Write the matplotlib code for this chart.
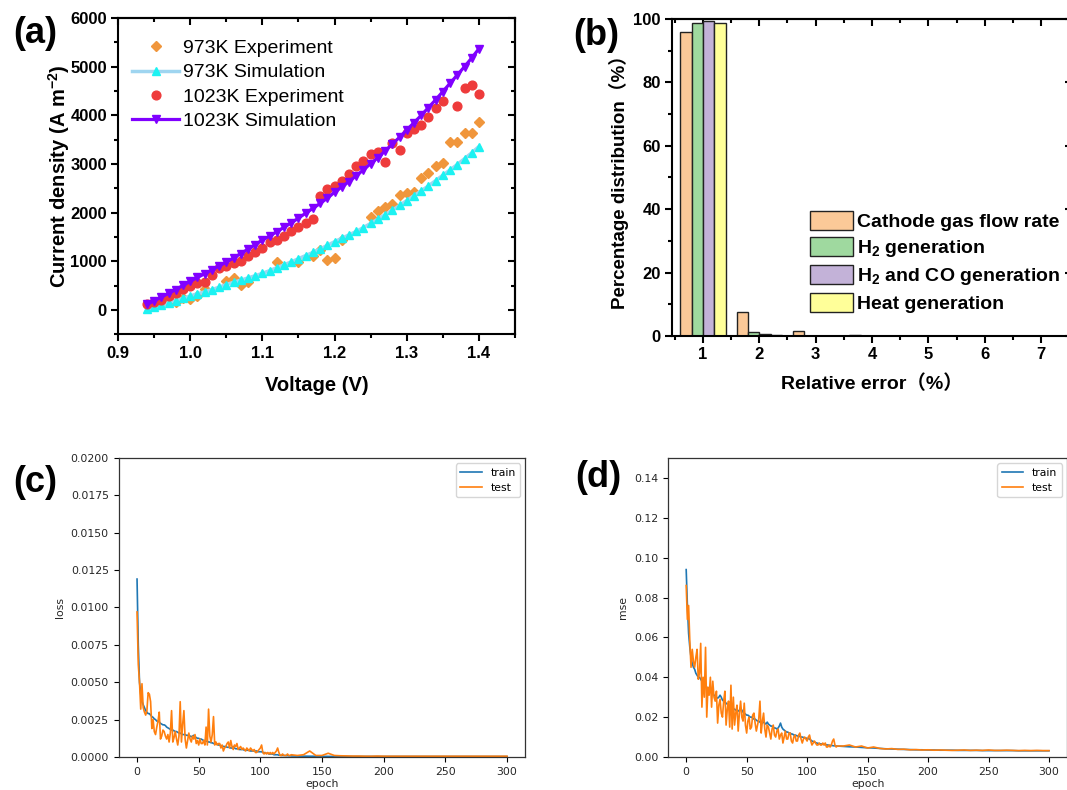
import matplotlib
matplotlib.use('Agg')
import matplotlib.pyplot as plt
from matplotlib.ticker import MultipleLocator

plt.rcParams['mathtext.fontset'] = 'custom'
plt.rcParams['mathtext.rm'] = 'Liberation Sans'
plt.rcParams['mathtext.bf'] = 'Liberation Sans:bold'

# ---------------- (a) polarisation curves ----------------
v_sim = [0.94, 0.95, 0.96, 0.97, 0.98, 0.99, 1.00, 1.01, 1.02, 1.03, 1.04, 1.05,
         1.06, 1.07, 1.08, 1.09, 1.10, 1.11, 1.12, 1.13, 1.14, 1.15, 1.16, 1.17,
         1.18, 1.19, 1.20, 1.21, 1.22, 1.23, 1.24, 1.25, 1.26, 1.27, 1.28, 1.29,
         1.30, 1.31, 1.32, 1.33, 1.34, 1.35, 1.36, 1.37, 1.38, 1.39, 1.40]
sim973 = [15, 60, 105, 150, 195, 240, 290, 335, 375, 420, 470, 525,
          570, 615, 660, 705, 755, 810, 870, 930, 990, 1055, 1120, 1185,
          1255, 1330, 1405, 1475, 1545, 1615, 1695, 1780, 1870, 1960, 2050, 2150,
          2250, 2350, 2450, 2550, 2660, 2770, 2880, 2990, 3110, 3230, 3360]
sim1023 = [115, 190, 265, 345, 420, 505, 590, 670, 745, 825, 905, 985,
           1070, 1160, 1250, 1340, 1440, 1520, 1610, 1700, 1790, 1890, 1990, 2090,
           2190, 2300, 2420, 2530, 2640, 2760, 2880, 3010, 3130, 3270, 3410, 3550,
           3700, 3850, 4000, 4160, 4320, 4490, 4660, 4830, 5000, 5180, 5370]

v_exp973 = [0.95, 0.96, 0.97, 0.98, 0.99, 1.00, 1.01, 1.02, 1.05, 1.06, 1.07, 1.08,
            1.12, 1.15, 1.17, 1.18, 1.19, 1.20, 1.21, 1.25, 1.26, 1.27, 1.28, 1.29,
            1.30, 1.31, 1.32, 1.33, 1.34, 1.35, 1.36, 1.37, 1.38, 1.39, 1.40]
exp973 = [110, 150, 200, 175, 255, 225, 280, 435, 590, 665, 515, 575,
          985, 985, 1120, 1230, 1030, 1075, 1430, 1920, 2030, 2115, 2170, 2365,
          2400, 2425, 2720, 2820, 2960, 3030, 3450, 3450, 3640, 3640, 3860]

v_exp1023 = [0.94, 0.95, 0.96, 0.97, 0.98, 0.99, 1.00, 1.01, 1.02, 1.03, 1.04, 1.05,
             1.06, 1.07, 1.08, 1.09, 1.10, 1.11, 1.12, 1.13, 1.14, 1.15, 1.16, 1.17,
             1.18, 1.19, 1.20, 1.21, 1.22, 1.23, 1.24, 1.25, 1.26, 1.27, 1.28, 1.29,
             1.30, 1.31, 1.32, 1.33, 1.34, 1.35, 1.37, 1.38, 1.39, 1.40]
exp1023 = [116, 164, 205, 287, 342, 424, 492, 547, 581, 711, 854, 902,
           970, 1018, 1107, 1189, 1278, 1394, 1449, 1517, 1620, 1702, 1791, 1880,
           2340, 2490, 2550, 2650, 2790, 2950, 3060, 3200, 3250, 3040, 3430, 3285,
           3640, 3710, 3810, 3970, 4160, 4290, 4200, 4565, 4620, 4430]

# ---------------- (b) relative error histogram ----------------
err_bins = [1, 2, 3, 4, 5, 6, 7]
cathode_flow = [96.0, 7.7, 1.5, 0.25, 0, 0, 0]
h2_gen = [98.8, 1.1, 0, 0, 0, 0, 0]
h2_co_gen = [99.4, 0.6, 0, 0, 0, 0, 0]
heat_gen = [98.8, 0.3, 0, 0, 0, 0, 0]
bar_labels = ['Cathode gas flow rate', r'H$_\mathbf{2}$ generation',
              r'H$_\mathbf{2}$ and CO generation', 'Heat generation']
bar_colors = ['#FBC998', '#9FD99F', '#C3B2D8', '#FFFF99']

# ---------------- (c) loss (x1e-4), (d) mse (x1e-3) ----------------
loss_train = [119, 75, 50, 42, 37, 35, 33, 31, 30, 29,
              29, 28, 27, 26.5, 25.5, 25, 24, 24, 23.5, 22.5,
              22, 21.5, 21.5, 21, 20, 19.5, 19, 18.5, 18, 18,
              17.5, 17, 17, 16.5, 16, 16, 15.5, 15, 15, 15,
              14.5, 14.5, 14, 14, 13.5, 14, 14.5, 13.5, 13, 12.5,
              12.5, 12, 12, 11.5, 11, 11, 10.5, 10.5, 10, 10,
              9.5, 9.5, 9, 9, 8.5, 8.5, 8, 8, 7.5, 7.5,
              7, 7, 7, 6.5, 6.5, 6.5, 6, 6, 7, 6,
              5.5, 5.5, 5.5, 5, 5, 5, 5, 4.5, 4.5, 4.5,
              4.5, 4.5, 4, 4, 4, 4, 4, 4, 3.5, 3.5,
              3.5, 3.5, 3, 3, 2.5, 2.5, 2.5, 2, 2, 2,
              2, 1.5, 1.5, 1.5, 1.5, 1.2, 1.2, 1, 1, 1,
              1, 0.9, 0.9, 0.8, 0.8]
loss_test = [97, 62, 50, 32, 49, 33, 30, 28, 31, 43,
             42, 37, 19, 25, 17, 15, 20, 24, 30, 12,
             14, 18, 17, 14, 12, 15, 10, 16, 31, 10,
             13, 17, 12, 8, 14, 37, 10, 22, 31, 12,
             6, 11, 16, 12, 10, 14, 12, 15, 9, 11,
             8, 12, 9, 9, 11, 8, 20, 8, 32, 14,
             10, 15, 27, 8, 10, 8, 9, 9, 6, 8,
             4, 6, 7, 9, 10, 6, 11, 7, 5, 8,
             7, 9, 5, 6, 7, 5, 6, 5, 4, 6,
             5, 4, 6, 5, 4, 5, 3, 3, 4, 5,
             6, 8, 3, 2, 3, 2, 3, 2, 3, 2,
             3, 2, 3, 4, 6, 3, 1, 1, 2, 1,
             1, 1, 2, 1, 1]
loss_tail_epochs = [125, 130, 135, 140, 145, 150, 155, 160, 165, 170, 175, 180,
                    185, 190, 195, 200, 205, 210, 215, 220, 225, 230, 235, 240,
                    245, 250, 255, 260, 265, 270, 275, 280, 285, 290, 295, 300]
loss_train_tail = [0.7, 0.6, 0.55, 0.5, 0.45, 0.4, 0.4, 0.35, 0.35, 0.3, 0.3, 0.3,
                   0.3, 0.3, 0.3, 0.3, 0.3, 0.3, 0.3, 0.3, 0.3, 0.3, 0.3, 0.3,
                   0.3, 0.3, 0.3, 0.3, 0.3, 0.3, 0.3, 0.3, 0.3, 0.3, 0.3, 0.3]
loss_test_tail = [1.5, 1, 1.5, 4, 1, 1, 2.5, 1, 0.8, 0.7, 0.6, 0.6,
                  0.5, 0.5, 0.6, 0.5, 0.5, 0.5, 0.5, 0.5, 0.5, 0.5, 0.5, 0.5,
                  0.5, 0.5, 0.5, 0.5, 0.5, 0.5, 0.5, 0.5, 0.5, 0.5, 0.5, 0.5]

mse_train = [94, 76, 62, 55, 50, 47, 45, 44, 42, 41,
             40, 40, 39, 38, 37, 36, 35.5, 35, 34, 33.5,
             33, 32.5, 32, 31, 30.5, 30, 29.5, 30, 31, 30,
             28.5, 28, 27.5, 27, 26.5, 26, 25.5, 25, 24.5, 24,
             24, 23.5, 23, 23, 23.5, 24.5, 23.5, 22.5, 22, 21.5,
             21, 21, 20.5, 20, 20, 19.5, 19, 19, 18.5, 18,
             18, 17.5, 17, 17, 17.5, 17, 16.5, 17.5, 16.5, 16,
             15.5, 15.5, 15, 14.5, 14.5, 14, 14.5, 15.5, 17, 15,
             14, 13.5, 13, 12.5, 12.5, 12, 12, 11.5, 11.5, 11,
             11, 10.8, 10.5, 10.5, 10.2, 10, 10, 9.8, 9.6, 9.5,
             9.3, 9.2, 9, 8.5, 8, 7.8, 7.5, 7.2, 7, 6.8,
             6.7, 6.6, 6.5, 6.4, 6.3, 6.2, 6.1, 6, 5.9, 5.8,
             5.8, 5.7, 5.6, 5.6, 5.5, 5.5]
mse_test = [86, 69, 76, 58, 45, 54, 48, 45, 50, 54,
            39, 42, 57, 25, 40, 30, 55, 20, 35, 31,
            40, 25, 38, 30, 28, 33, 17, 26, 29, 22,
            20, 28, 33, 16, 24, 28, 15, 36, 14, 30,
            16, 22, 26, 13, 22, 28, 20, 18, 27, 16,
            12, 18, 20, 14, 15, 21, 22, 17, 13, 16,
            19, 28, 12, 18, 22, 14, 10, 16, 15, 12,
            9, 14, 16, 11, 10, 13, 14, 9, 11, 12,
            7, 10, 13, 9, 9, 12, 12, 8, 7, 10,
            11, 8, 8, 11, 12, 9, 7, 9, 10, 9,
            8, 10, 11, 8, 6, 7, 8, 7, 6, 6,
            7, 6, 6, 7, 6, 7, 5, 5, 6, 5,
            6, 8, 9, 6, 5, 5.5]
mse_tail_epochs = [130, 135, 140, 145, 150, 155, 160, 165, 170, 175, 180, 185,
                   190, 195, 200, 205, 210, 215, 220, 225, 230, 235, 240, 245,
                   250, 255, 260, 265, 270, 275, 280, 285, 290, 295, 300]
mse_train_tail = [5.3, 5.1, 5.0, 4.8, 4.6, 4.5, 4.3, 4.1, 4.0, 3.9, 3.8, 3.7,
                  3.6, 3.6, 3.5, 3.5, 3.4, 3.4, 3.4, 3.3, 3.3, 3.3, 3.3, 3.2,
                  3.2, 3.2, 3.2, 3.2, 3.2, 3.1, 3.1, 3.1, 3.1, 3.1, 3.1]
mse_test_tail = [5.5, 6, 5, 5.5, 4.5, 5, 4.3, 4, 4.2, 3.8, 3.9, 3.6,
                 3.7, 3.5, 3.6, 3.4, 3.5, 3.4, 3.3, 3.4, 3.5, 3.3, 3.4, 3.3,
                 3.5, 3.3, 3.3, 3.4, 3.3, 3.2, 3.3, 3.2, 3.3, 3.2, 3.2]


def origin_style(ax, xmaj, xminor, ymaj, yminor):
    # Origin-like frame: outward ticks left/bottom, inward mirrored ticks top/right
    for s in ax.spines.values():
        s.set_linewidth(1.5)
    ax.xaxis.set_major_locator(MultipleLocator(xmaj))
    ax.xaxis.set_minor_locator(MultipleLocator(xminor))
    ax.yaxis.set_major_locator(MultipleLocator(ymaj))
    ax.yaxis.set_minor_locator(MultipleLocator(yminor))
    ax.tick_params(which='major', direction='out', length=5, width=1.5,
                   labelsize=12, pad=3)
    ax.tick_params(which='minor', direction='out', length=3, width=1.5)
    top = ax.secondary_xaxis('top')
    top.xaxis.set_major_locator(MultipleLocator(xmaj))
    top.xaxis.set_minor_locator(MultipleLocator(xminor))
    top.tick_params(which='major', direction='in', length=5, width=1.5, labeltop=False)
    top.tick_params(which='minor', direction='in', length=3, width=1.5)
    top.spines['top'].set_linewidth(1.5)
    right = ax.secondary_yaxis('right')
    right.yaxis.set_major_locator(MultipleLocator(ymaj))
    right.yaxis.set_minor_locator(MultipleLocator(yminor))
    right.tick_params(which='major', direction='in', length=5, width=1.5, labelright=False)
    right.tick_params(which='minor', direction='in', length=3, width=1.5)
    right.spines['right'].set_linewidth(1.5)


fig = plt.figure(figsize=(10.67, 7.9), dpi=100)

# ---- (a)
axa = fig.add_axes([0.1106, 0.5767, 0.3721, 0.4005])
axa.plot(v_exp973, exp973, ls='none', marker='D', ms=5, color='#F0963C',
         label='973K Experiment')
axa.plot(v_sim, sim973, color='#9FD5F0', lw=2.5, marker='^', ms=5.5,
         mfc='#1CF2F2', mec='#1CF2F2', label='973K Simulation')
axa.plot(v_exp1023, exp1023, ls='none', marker='o', ms=6.3, color='#EE3B3B',
         label='1023K Experiment')
axa.plot(v_sim, sim1023, color='#8000FF', lw=2.3, marker='v', ms=5.5,
         label='1023K Simulation')
axa.set_xlim(0.9, 1.45)
axa.set_ylim(-500, 6000)
origin_style(axa, 0.1, 0.05, 1000, 500)
axa.set_xticks([0.9, 1.0, 1.1, 1.2, 1.3, 1.4])
axa.set_xticklabels(['0.9', '1.0', '1.1', '1.2', '1.3', '1.4'],
                    fontfamily='Liberation Sans', fontweight='bold', fontsize=12)
axa.set_yticks([0, 1000, 2000, 3000, 4000, 5000, 6000])
axa.set_yticklabels(['0', '1000', '2000', '3000', '4000', '5000', '6000'],
                    fontfamily='Liberation Sans', fontweight='bold', fontsize=12)
axa.set_xlabel('Voltage (V)', fontfamily='Liberation Sans', fontweight='bold',
               fontsize=14.5, labelpad=11)
axa.set_ylabel(r'Current density (A m$^{\mathbf{-2}}$)', fontfamily='Liberation Sans',
               fontweight='bold', fontsize=14.5, labelpad=-1)
axa.legend(loc='upper left', bbox_to_anchor=(0.124, 0.950), bbox_transform=fig.transFigure,
           frameon=False, prop={'family': 'Liberation Sans', 'size': 14},
           handlelength=2.4, handletextpad=0.2, labelspacing=0.34, borderpad=0,
           borderaxespad=0)

# ---- (b)
axb = fig.add_axes([0.6298, 0.5747, 0.3749, 0.4013])
width = 0.2
offsets = [-0.3, -0.1, 0.1, 0.3]
series = [cathode_flow, h2_gen, h2_co_gen, heat_gen]
for vals, off, col, lab in zip(series, offsets, bar_colors, bar_labels):
    axb.bar([b + off for b in err_bins], vals, width=width, color=col,
            edgecolor='#222222', linewidth=1.0, label=lab)
axb.set_xlim(0.45, 7.55)
axb.set_ylim(0, 100)
origin_style(axb, 1, 0.5, 20, 10)
axb.set_xticks(err_bins)
axb.set_xticklabels([str(b) for b in err_bins], fontfamily='Liberation Sans',
                    fontweight='bold', fontsize=12)
axb.set_yticks([0, 20, 40, 60, 80, 100])
axb.set_yticklabels(['0', '20', '40', '60', '80', '100'], fontfamily='Liberation Sans',
                    fontweight='bold', fontsize=12)
cjk = ['Liberation Sans', 'Noto Sans CJK SC']
axb.set_xlabel('Relative error（%）', fontfamily=cjk, fontweight='bold',
               fontsize=14, labelpad=9)
axb.set_ylabel('Percentage distribution（%）', fontfamily=cjk, fontweight='bold',
               fontsize=13.5, labelpad=3)
axb.legend(loc='upper left', bbox_to_anchor=(0.759, 0.733), bbox_transform=fig.transFigure,
           frameon=False, prop={'family': 'Liberation Sans', 'size': 14, 'weight': 'bold'},
           handlelength=2.2, handleheight=1.15, handletextpad=0.25, labelspacing=0.3,
           borderpad=0, borderaxespad=0)

# ---- (c) and (d): matplotlib training curves
def train_panel(rect, ep_head, tr_head, te_head, ep_tail, tr_tail, te_tail,
                scale, ylim, yticks, yfmt, ylabel):
    ax = fig.add_axes(rect)
    ep = list(ep_head) + ep_tail
    tr = [v * scale for v in tr_head + tr_tail]
    te = [v * scale for v in te_head + te_tail]
    ax.plot(ep, tr, color='#1f77b4', lw=1.2, label='train')
    ax.plot(ep, te, color='#ff7f0e', lw=1.2, label='test')
    ax.set_xlim(-15, 315)
    ax.set_ylim(*ylim)
    ax.set_xticks([0, 50, 100, 150, 200, 250, 300])
    ax.set_yticks(yticks)
    ax.set_yticklabels([yfmt % t for t in yticks])
    ax.tick_params(labelsize=7.8, labelcolor='#262626', length=3.5, width=0.8)
    for s in ax.spines.values():
        s.set_linewidth(0.9)
        s.set_color('#333333')
    ax.set_xlabel('epoch', fontsize=7.8, color='#262626', labelpad=2)
    ax.set_ylabel(ylabel, fontsize=7.8, color='#262626')
    ax.legend(loc='upper right', fontsize=7.8)
    return ax

train_panel([0.1111, 0.0418, 0.3814, 0.3785], range(len(loss_train)), loss_train,
            loss_test, loss_tail_epochs, loss_train_tail, loss_test_tail, 1e-4,
            (0, 0.02), [0, 0.0025, 0.005, 0.0075, 0.01, 0.0125, 0.015, 0.0175, 0.02],
            '%.4f', 'loss')
train_panel([0.6261, 0.0418, 0.374, 0.3785], range(len(mse_train)), mse_train,
            mse_test, mse_tail_epochs, mse_train_tail, mse_test_tail, 1e-3,
            (0, 0.15), [0, 0.02, 0.04, 0.06, 0.08, 0.10, 0.12, 0.14],
            '%.2f', 'mse')

# panel letters
for x, y, t in [(0.033, 0.957, '(a)'), (0.559, 0.955, '(b)'),
                (0.033, 0.389, '(c)'), (0.561, 0.395, '(d)')]:
    fig.text(x, y, t, fontfamily='Liberation Sans', fontweight='bold', fontsize=26,
             ha='center', va='center')

fig.savefig('out.png', dpi=100)
